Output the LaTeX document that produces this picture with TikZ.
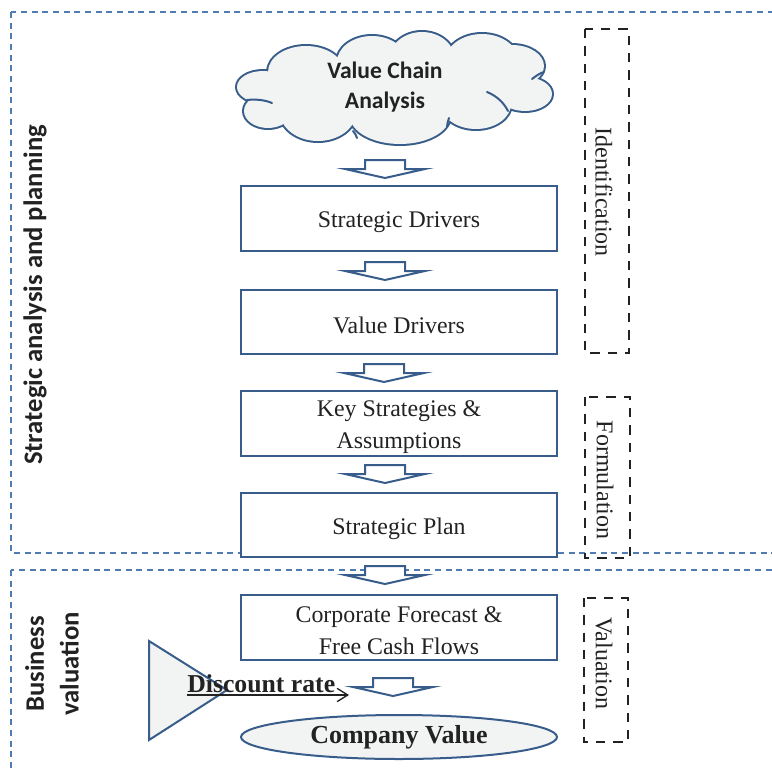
\documentclass[tikz,border=0pt]{standalone}
\usepackage{fontspec}
\setmainfont{Liberation Serif}
\newfontfamily\calib{Carlito}
\usetikzlibrary{shapes.geometric,arrows.meta,calc}

\definecolor{edgeblue}{RGB}{56,93,138}
\definecolor{dashblue}{RGB}{79,125,178}
\definecolor{paleface}{RGB}{242,243,243}
\definecolor{inkgrey}{RGB}{34,34,34}

% lower a line of box text without changing its box size
\newcommand\droptext[1]{\raisebox{-2.6pt}[\height][\depth]{#1}}

\begin{document}
\begin{tikzpicture}[x=0.75pt,y=-0.75pt,
  stagebox/.style={draw=edgeblue, line width=1.5pt, fill=white,
    minimum width=237pt, minimum height=48.5pt, inner sep=0pt,
    align=center, font=\fontsize{17.9}{24}\selectfont, text=inkgrey},
  phasebox/.style={draw=inkgrey, dash pattern=on 7pt off 6pt, line width=1.4pt},
  sectionbox/.style={draw=dashblue, dash pattern=on 4.5pt off 3.5pt, line width=1pt},
  phaselabel/.style={rotate=-90, font=\fontsize{18}{22}\selectfont, text=inkgrey},
  sidelabel/.style={rotate=90, font=\calib\bfseries\fontsize{20}{26}\selectfont, text=inkgrey, align=center},
  blockarrow/.pic={
    \draw[draw=edgeblue, line width=1.5pt, fill=white, line join=miter]
      (-20,0) -- (-20,9) -- (-40,9) -- (0,18) -- (40,9) -- (20,9) -- (20,0) -- cycle;
  }]
\useasboundingbox (0,0) rectangle (772,768);

% section frames
\draw[sectionbox] (11,12) rectangle (790,553);
\draw[sectionbox] (11,570) rectangle (790,790);

% side labels
\node[sidelabel] (lblplan) at (35,295) {Strategic analysis and planning};
\node[sidelabel] (lblval) at (52,664) {Business\\valuation};

% phase frames
\draw[phasebox] (585,29) rectangle (629,353);
\node[phaselabel] (idlbl) at (604,192) {Identification};
\draw[phasebox] (585,397) rectangle (630,558);
\node[phaselabel] (fmlbl) at (605,480) {Formulation};
\draw[phasebox] (584,598) rectangle (628,742);
\node[phaselabel] (vllbl) at (604,663) {Valuation};

% value chain cloud: union of puffs, outline stroked first, then filled over
\def\puffs{(263,87) ellipse [x radius=26, y radius=16]
  (268,111) ellipse [x radius=24, y radius=17]
  (318,112) ellipse [x radius=38, y radius=29]
  (400,116) ellipse [x radius=50, y radius=28]
  (476,104) ellipse [x radius=35, y radius=25]
  (525,94) ellipse [x radius=27, y radius=17]
  (512,66) ellipse [x radius=32, y radius=21]
  (482,62) ellipse [x radius=37, y radius=28]
  (422,60) ellipse [x radius=33, y radius=28]
  (372,62) ellipse [x radius=35, y radius=26]
  (306,72) ellipse [x radius=38, y radius=26]}
\draw[edgeblue, line width=3pt] \puffs;
\fill[paleface] \puffs;
\fill[paleface] (395,89) ellipse [x radius=130, y radius=32];
% inner puff creases
\begin{scope}[edgeblue, line width=1.5pt, line cap=round]
  \draw (247,100) .. controls (256,99) and (265,100) .. (272,103);
  \draw (487,92) .. controls (497,96) and (504,103) .. (508,111);
  \draw (532,79) .. controls (536,76) and (540,73) .. (544,72);
  \draw (353,131) .. controls (355,133) and (356,135) .. (357,138);
  \draw (447,127) .. controls (447,124) and (448,121) .. (449,118);
\end{scope}
\node[align=center, text=inkgrey, inner sep=0pt,
      font=\calib\bfseries\fontsize{17.7}{22}\selectfont]
      (vca) at (385,87) {Value Chain\\Analysis};

% process stages
\node[stagebox] (sd) at (399,218.5) {\droptext{Strategic Drivers}};
\node[stagebox] (vd) at (399,322) {\droptext{Value Drivers}};
\node[stagebox] (ks) at (399,423.5) {\droptext{Key Strategies \&}\\\droptext{Assumptions}};
\node[stagebox] (sp) at (399,525) {\droptext{Strategic Plan}};
\node[stagebox] (cf) at (399,627.5) {\droptext{Corporate Forecast \&}\\\droptext{Free Cash Flows}};

% discount rate input
\draw[draw=edgeblue, line width=1.5pt, fill=paleface, line join=miter]
  (149,641) -- (149,740) -- (227,690) -- cycle;
\node[anchor=base west, inner sep=0pt, text=inkgrey,
      font=\bfseries\fontsize{19.3}{23}\selectfont] (dr) at (187,692) {Discount rate};
\coordinate (drend) at (349,695);
\draw[inkgrey, line width=1pt, -{Straight Barb[length=8pt,width=10pt]}]
  ($(dr.base west)+(0,3)$) -- (drend);

% result
\node[ellipse, draw=edgeblue, line width=1.5pt, fill=paleface,
      minimum width=237pt, minimum height=33pt, inner sep=0pt, text=inkgrey,
      font=\bfseries\fontsize{19.5}{23}\selectfont] (cv) at (399,737) {Company Value};

% flow arrows
\pic at (385,160) {blockarrow};
\pic at (385,262) {blockarrow};
\pic at (384,364) {blockarrow};
\pic at (385,465) {blockarrow};
\pic at (385,566) {blockarrow};
\pic at (393,678) {blockarrow};
\end{tikzpicture}
\end{document}
